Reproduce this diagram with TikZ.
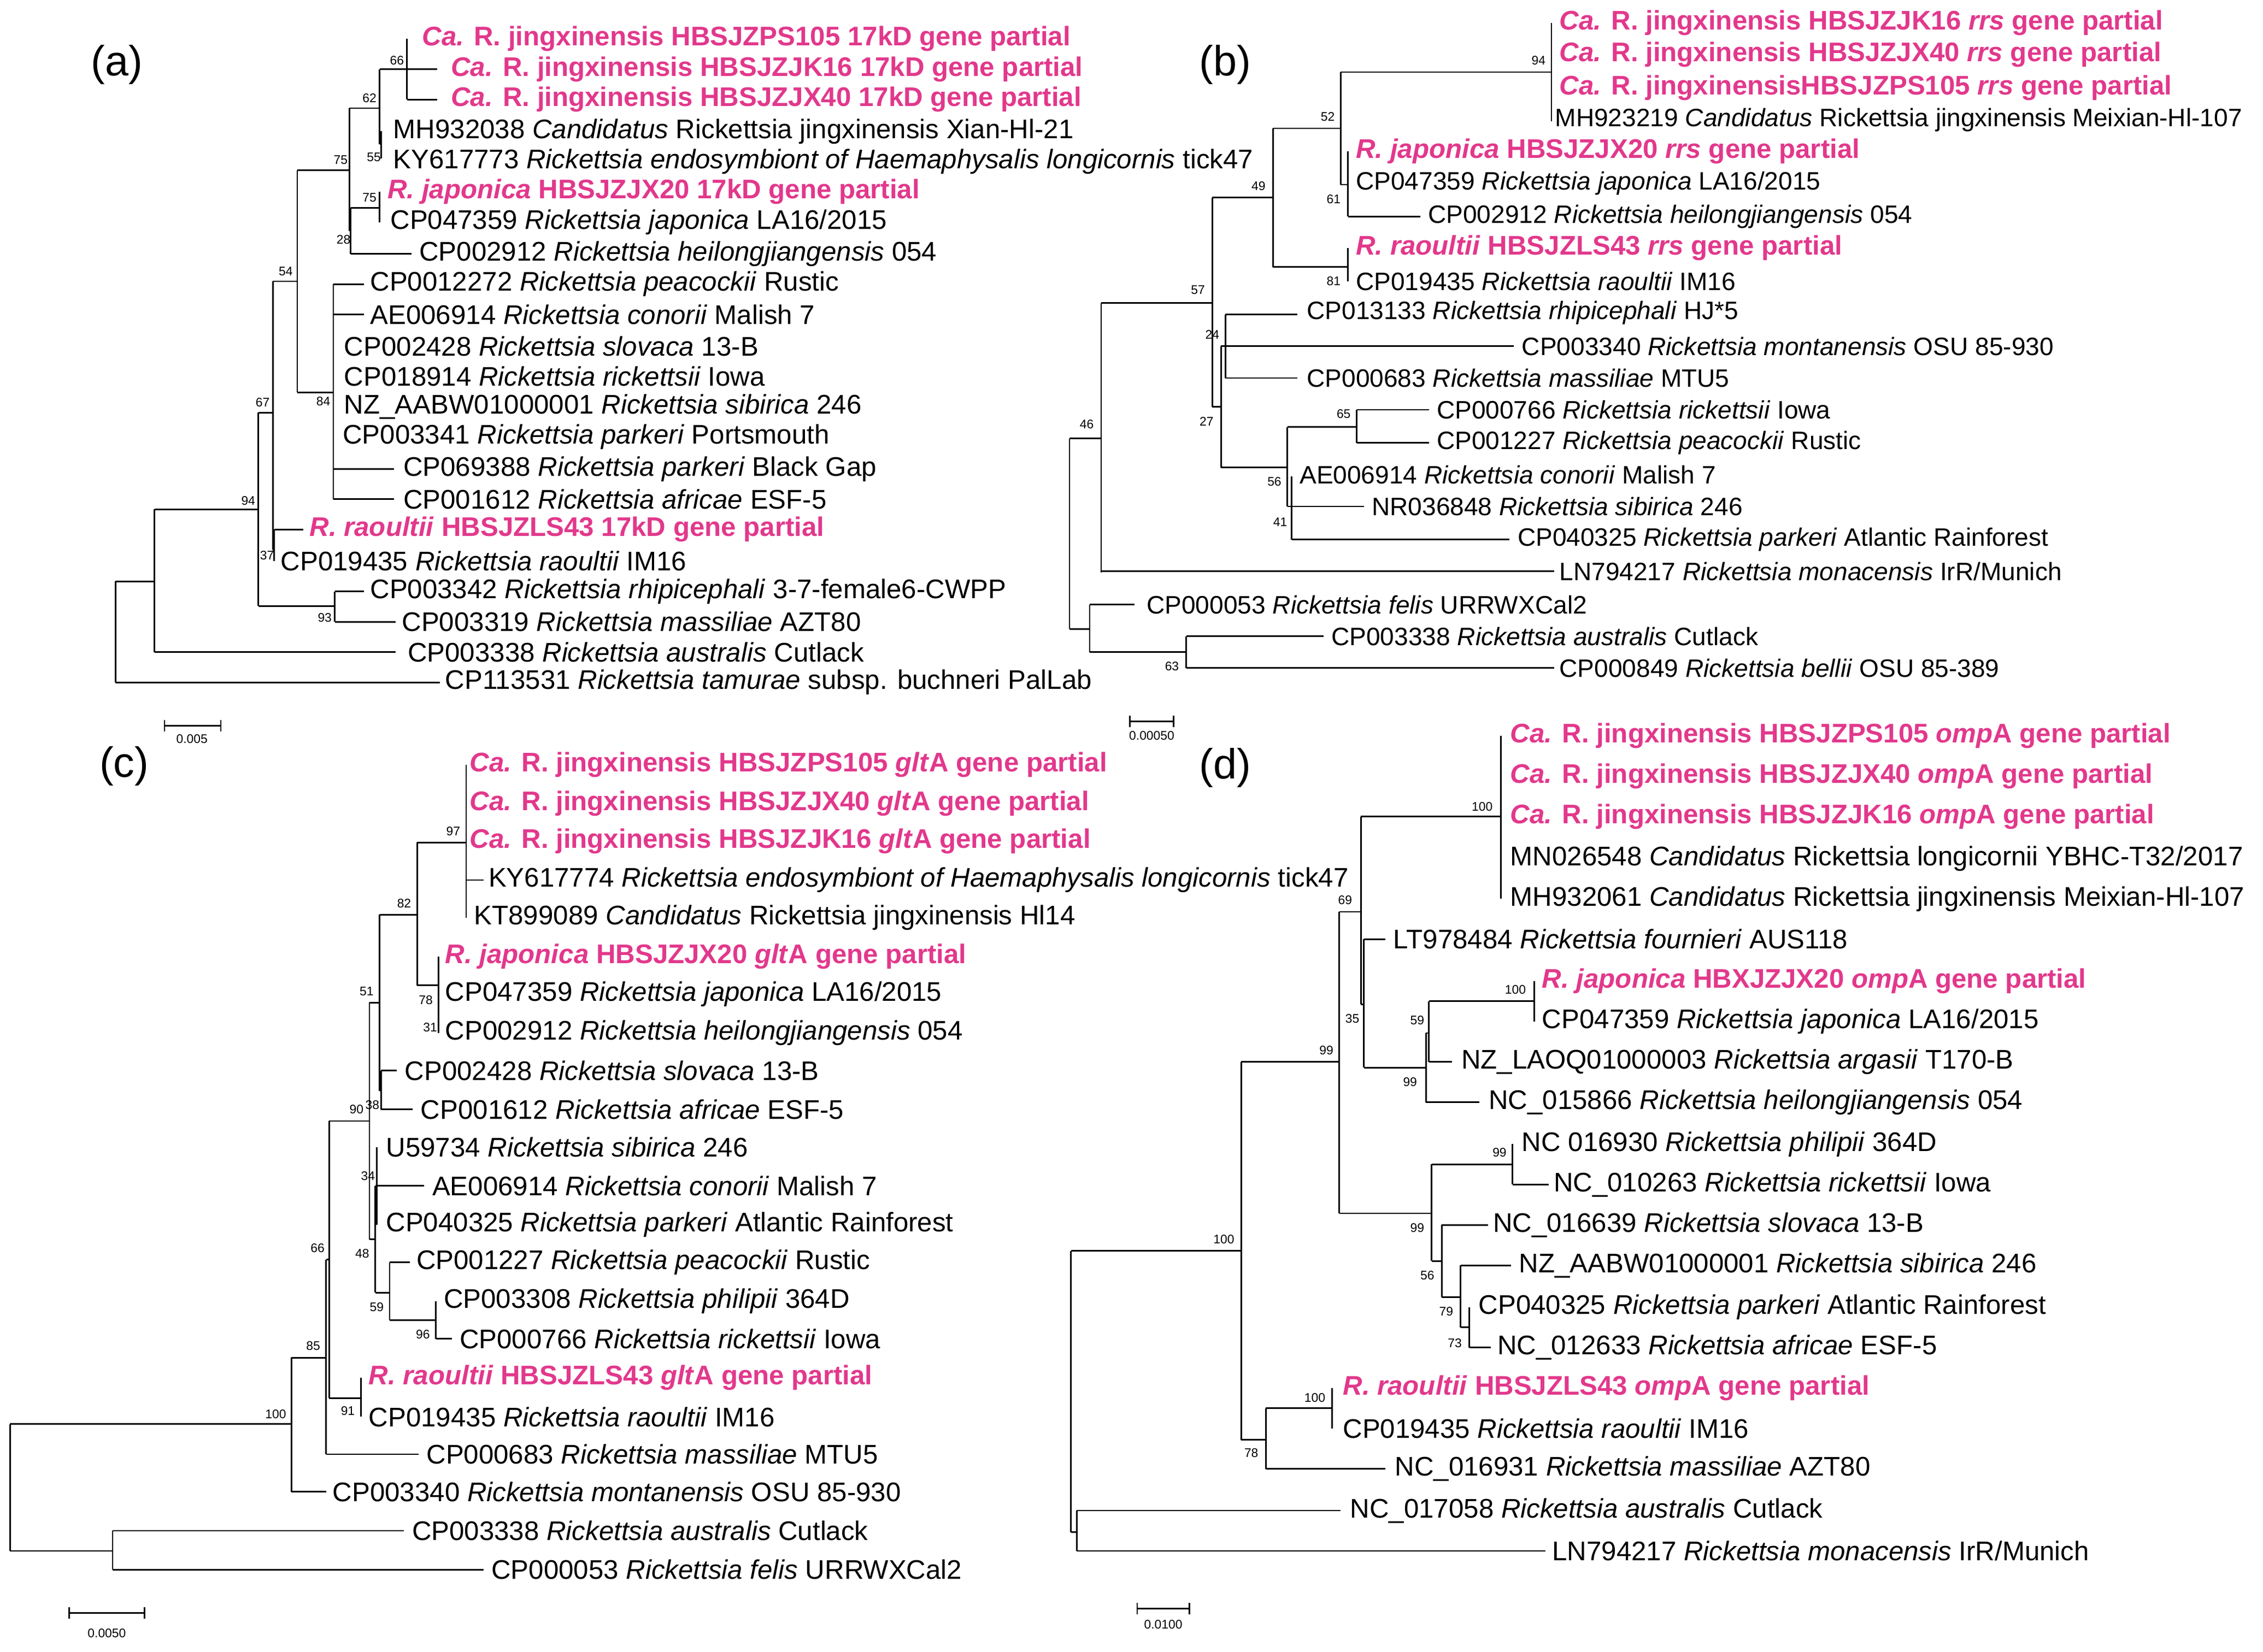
\documentclass[tikz,border=0pt]{standalone}
\usepackage{fontspec}
\setmainfont{Liberation Sans}
\definecolor{mag}{RGB}{226,56,140}
\newcommand\vb[3]{\draw (#1,#2) -- (#1,#3);}
\newcommand\hb[3]{\draw (#1,#3) -- (#2,#3);}
\newcommand\lf[3]{\node[lab] at (#1,#2) {#3};}
\newcommand\lfb[3]{\node[labb] at (#1,#2) {#3};}
\newcommand\mg[3]{\node[mglab] at (#1,#2) {#3};}
\newcommand\bsv[3]{\node[bsn] at (#1,#2) {#3};}
\begin{document}
\begin{tikzpicture}[x=0.0264cm,y=-0.0264cm,line width=0.8pt,
 lab/.style={anchor=west,inner sep=0pt,font=\fontsize{14}{14}\selectfont},
 labb/.style={anchor=west,inner sep=0pt,font=\fontsize{13.1}{13.1}\selectfont},
 mglab/.style={anchor=west,inner sep=0pt,text=mag,font=\bfseries\fontsize{14}{14}\selectfont},
 bsn/.style={inner sep=0pt,font=\fontsize{6.5}{6.5}\selectfont},
 plab/.style={inner sep=0pt,font=\fontsize{22}{22}\selectfont},
 sclab/.style={inner sep=0pt,font=\fontsize{6.5}{6.5}\selectfont}]
\useasboundingbox[fill=white] (0,0) rectangle (1568,1144.7);
% ================= (a)
\node[plab] (pa) at (81,45) {(a)};
\vb{80}{403}{473} \hb{80}{107}{403} \hb{80}{305}{473}
\vb{107}{353}{452} \hb{107}{179}{353} \hb{107}{274}{452}
\vb{179}{286}{420} \hb{179}{189}{286} \hb{179}{232}{420}
\vb{232}{410}{431} \hb{232}{252}{410} \hb{232}{274}{431}
\vb{189}{195}{381} \hb{189}{206}{195} \hb{189}{190}{381}
\vb{190}{367}{389} \hb{190}{210}{367}
\vb{206}{118}{272} \hb{206}{242}{118} \hb{206}{231}{272}
\vb{231}{197}{346} \hb{231}{252}{197} \hb{231}{252}{218} \hb{231}{273}{325} \hb{231}{273}{346}
\vb{242}{75}{160} \hb{242}{263}{75}
\vb{243}{144}{176} \hb{243}{263}{144} \hb{243}{285}{176}
\vb{263}{133}{154}
\vb{263}{48}{100} \hb{263}{282}{48} \hb{263}{264}{100}
\vb{264}{91}{110}
\vb{282}{27}{69} \hb{282}{303}{48} \hb{282}{303}{69}
\mg{292}{27}{\textit{Ca.} R. jingxinensis HBSJZPS105 17kD gene partial}
\mg{312}{48}{\textit{Ca.} R. jingxinensis HBSJZJK16 17kD gene partial}
\mg{312}{69}{\textit{Ca.} R. jingxinensis HBSJZJX40 17kD gene partial}
\lf{272}{91}{MH932038 \textit{Candidatus} Rickettsia jingxinensis Xian-Hl-21}
\lf{272}{112}{KY617773 \textit{Rickettsia endosymbiont of Haemaphysalis longicornis} tick47}
\mg{268}{133}{\textit{R. japonica} HBSJZJX20 17kD gene partial}
\lf{270}{154}{CP047359 \textit{Rickettsia japonica} LA16/2015}
\lf{290}{176}{CP002912 \textit{Rickettsia heilongjiangensis} 054}
\lf{256}{197}{CP0012272 \textit{Rickettsia peacockii} Rustic}
\lf{256}{218}{AE006914 \textit{Rickettsia conorii} Malish 7}
\lf{238}{240}{CP002428 \textit{Rickettsia slovaca} 13-B}
\lf{238}{261}{CP018914 \textit{Rickettsia rickettsii} Iowa}
\lf{238}{282}{NZ\_AABW01000001 \textit{Rickettsia sibirica} 246}
\lf{237}{303}{CP003341 \textit{Rickettsia parkeri} Portsmouth}
\lf{279}{325}{CP069388 \textit{Rickettsia parkeri} Black Gap}
\lf{279}{346}{CP001612 \textit{Rickettsia africae} ESF-5}
\mg{214}{367}{\textit{R. raoultii} HBSJZLS43 17kD gene partial}
\lf{194}{389}{CP019435 \textit{Rickettsia raoultii} IM16}
\lf{256}{410}{CP003342 \textit{Rickettsia rhipicephali} 3-7-female6-CWPP}
\lf{278}{431}{CP003319 \textit{Rickettsia massiliae} AZT80}
\lf{282}{452}{CP003338 \textit{Rickettsia australis} Cutlack}
\lf{308}{473}{CP113531 \textit{Rickettsia tamurae} subsp. buchneri PalLab}
\bsv{275}{42}{66} \bsv{256}{68}{62} \bsv{259}{109}{55} \bsv{236}{111}{75}
\bsv{256}{137}{75} \bsv{238}{166}{28} \bsv{198}{188}{54} \bsv{224}{278}{84}
\bsv{182}{279}{67} \bsv{172}{347}{94} \bsv{185}{385}{37} \bsv{225}{428}{93}
\draw (114,503) -- (153,503); \draw (114,499) -- (114,507); \draw (153,499) -- (153,507);
\node[sclab] (sa) at (133,512) {0.005};
% ================= (b)
\node[plab] (pb) at (849,45) {(b)};
\vb{741}{304}{436} \hb{741}{763}{304} \hb{741}{755}{436}
\vb{763}{210}{397} \hb{763}{840}{210} \hb{763}{1077}{396}
\vb{840}{137}{282} \hb{840}{882}{137} \hb{840}{846}{282}
\vb{882}{89}{185} \hb{882}{929}{89} \hb{882}{934}{185}
\vb{929}{50}{128} \hb{929}{1075}{50} \hb{929}{934}{128}
\vb{1075}{16}{84}
\vb{934}{105}{150} \hb{934}{984}{150}
\vb{934}{172}{195}
\vb{846}{240}{324} \hb{846}{849}{240} \hb{846}{1049}{240} \hb{846}{892}{324}
\vb{849}{218}{262} \hb{849}{899}{218} \hb{849}{899}{262}
\vb{892}{296}{351} \hb{892}{940}{296} \hb{892}{945}{351}
\vb{940}{284}{307} \hb{940}{990}{284} \hb{940}{990}{307}
\vb{895}{330}{374} \hb{895}{1046}{374}
\vb{755}{419}{452} \hb{755}{786}{419} \hb{755}{822}{452}
\vb{822}{441}{463} \hb{822}{917}{441} \hb{822}{1077}{463}
\mg{1080}{16}{\textit{Ca.} R. jingxinensis HBSJZJK16 \textit{rrs} gene partial}
\mg{1080}{38}{\textit{Ca.} R. jingxinensis HBSJZJX40 \textit{rrs} gene partial}
\mg{1080}{61}{\textit{Ca.} R. jingxinensisHBSJZPS105 \textit{rrs} gene partial}
\lfb{1077}{83}{MH923219 \textit{Candidatus} Rickettsia jingxinensis Meixian-Hl-107}
\mg{939}{105}{\textit{R. japonica} HBSJZJX20 \textit{rrs} gene partial}
\lfb{939}{127}{CP047359 \textit{Rickettsia japonica} LA16/2015}
\lfb{989}{150}{CP002912 \textit{Rickettsia heilongjiangensis} 054}
\mg{939}{172}{\textit{R. raoultii} HBSJZLS43 \textit{rrs} gene partial}
\lfb{939}{195}{CP019435 \textit{Rickettsia raoultii} IM16}
\lfb{905}{217}{CP013133 \textit{Rickettsia rhipicephali} HJ*5}
\lfb{1054}{240}{CP003340 \textit{Rickettsia montanensis} OSU 85-930}
\lfb{905}{262}{CP000683 \textit{Rickettsia massiliae} MTU5}
\lfb{995}{284}{CP000766 \textit{Rickettsia rickettsii} Iowa}
\lfb{995}{307}{CP001227 \textit{Rickettsia peacockii} Rustic}
\lfb{900}{329}{AE006914 \textit{Rickettsia conorii} Malish 7}
\lfb{950}{351}{NR036848 \textit{Rickettsia sibirica} 246}
\lfb{1051}{374}{CP040325 \textit{Rickettsia parkeri} Atlantic Rainforest}
\lfb{1080}{396}{LN794217 \textit{Rickettsia monacensis} IrR/Munich}
\lfb{794}{419}{CP000053 \textit{Rickettsia felis} URRWXCal2}
\lfb{922}{441}{CP003338 \textit{Rickettsia australis} Cutlack}
\lfb{1080}{463}{CP000849 \textit{Rickettsia bellii} OSU 85-389}
\bsv{1066}{42}{94} \bsv{920}{81}{52} \bsv{872}{129}{49} \bsv{924}{138}{61}
\bsv{924}{195}{81} \bsv{830}{201}{57} \bsv{840}{232}{24} \bsv{836}{292}{27}
\bsv{931}{287}{65} \bsv{883}{334}{56} \bsv{887}{362}{41} \bsv{753}{294}{46}
\bsv{812}{462}{63}
\draw (783,500) -- (813,500); \draw (783,496) -- (783,504); \draw (813,496) -- (813,504);
\node[sclab] (sb) at (798,510) {0.00050};
% ================= (c)
\node[plab] (pc) at (86,531) {(c)};
\vb{7}{987}{1075} \hb{7}{202}{987} \hb{7}{78}{1075}
\vb{78}{1061}{1088} \hb{78}{280}{1061} \hb{78}{335}{1088}
\vb{202}{941}{1034} \hb{202}{226}{941} \hb{202}{226}{1034}
\vb{226}{873}{1008} \hb{226}{228}{873} \hb{226}{290}{1008}
\vb{228}{777}{969} \hb{228}{256}{777} \hb{228}{250}{969}
\vb{250}{955}{982}
\vb{256}{695}{859} \hb{256}{263}{695} \hb{256}{260}{859}
\vb{263}{634}{756} \hb{263}{289}{634} \hb{263}{264}{756}
\vb{264}{742}{769} \hb{264}{275}{742} \hb{264}{286}{769}
\vb{289}{584}{683} \hb{289}{323}{584} \hb{289}{304}{683}
\vb{323}{530}{636} \hb{323}{335}{610}
\vb{304}{663}{716}
\vb{260}{822}{896} \hb{260}{261}{822} \hb{260}{270}{896}
\vb{261}{795}{849} \hb{261}{294}{822}
\vb{270}{875}{915} \hb{270}{284}{875} \hb{270}{302}{915}
\vb{302}{902}{928} \hb{302}{313}{928}
\mg{325}{530}{\textit{Ca.} R. jingxinensis HBSJZPS105 \textit{glt}A gene partial}
\mg{325}{557}{\textit{Ca.} R. jingxinensis HBSJZJX40 \textit{glt}A gene partial}
\mg{325}{583}{\textit{Ca.} R. jingxinensis HBSJZJK16 \textit{glt}A gene partial}
\lf{338}{610}{KY617774 \textit{Rickettsia endosymbiont of Haemaphysalis longicornis} tick47}
\lf{328}{636}{KT899089 \textit{Candidatus} Rickettsia jingxinensis Hl14}
\mg{308}{663}{\textit{R. japonica} HBSJZJX20 \textit{glt}A gene partial}
\lf{308}{689}{CP047359 \textit{Rickettsia japonica} LA16/2015}
\lf{308}{716}{CP002912 \textit{Rickettsia heilongjiangensis} 054}
\lf{280}{742}{CP002428 \textit{Rickettsia slovaca} 13-B}
\lf{291}{769}{CP001612 \textit{Rickettsia africae} ESF-5}
\lf{267}{795}{U59734 \textit{Rickettsia sibirica} 246}
\lf{299}{822}{AE006914 \textit{Rickettsia conorii} Malish 7}
\lf{267}{849}{CP040325 \textit{Rickettsia parkeri} Atlantic Rainforest}
\lf{288}{875}{CP001227 \textit{Rickettsia peacockii} Rustic}
\lf{307}{902}{CP003308 \textit{Rickettsia philipii} 364D}
\lf{318}{928}{CP000766 \textit{Rickettsia rickettsii} Iowa}
\mg{255}{955}{\textit{R. raoultii} HBSJZLS43 \textit{glt}A gene partial}
\lf{255}{982}{CP019435 \textit{Rickettsia raoultii} IM16}
\lf{295}{1008}{CP000683 \textit{Rickettsia massiliae} MTU5}
\lf{230}{1034}{CP003340 \textit{Rickettsia montanensis} OSU 85-930}
\lf{285}{1061}{CP003338 \textit{Rickettsia australis} Cutlack}
\lf{340}{1088}{CP000053 \textit{Rickettsia felis} URRWXCal2}
\bsv{314}{576}{97} \bsv{280}{626}{82} \bsv{254}{687}{51} \bsv{295}{693}{78}
\bsv{298}{712}{31} \bsv{247}{769}{90} \bsv{258}{766}{38} \bsv{255}{815}{34}
\bsv{251}{869}{48} \bsv{261}{906}{59} \bsv{293}{925}{96} \bsv{220}{865}{66}
\bsv{217}{933}{85} \bsv{241}{978}{91} \bsv{191}{980}{100}
\draw (48,1118) -- (100,1118); \draw (48,1114) -- (48,1122); \draw (100,1114) -- (100,1122);
\node[sclab] (sc) at (74,1132) {0.0050};
% ================= (d)
\node[plab] (pd) at (849,532) {(d)};
\vb{742}{867}{1062} \hb{742}{860}{867} \hb{742}{746}{1062}
\vb{746}{1047}{1075} \hb{746}{929}{1047} \hb{746}{1071}{1075}
\vb{860}{736}{998} \hb{860}{928}{736} \hb{860}{877}{998}
\vb{877}{976}{1018} \hb{877}{923}{976} \hb{877}{960}{1018}
\vb{923}{962}{990}
\vb{928}{632}{841} \hb{928}{943}{632} \hb{928}{992}{841}
\vb{943}{566}{696} \hb{943}{1040}{566} \hb{943}{945}{696}
\vb{1040}{510}{623}
\vb{945}{651}{740} \hb{945}{960}{651} \hb{945}{988}{740}
\vb{988}{716}{764} \hb{988}{990}{716} \hb{988}{1025}{764}
\vb{990}{694}{736} \hb{990}{1063}{694} \hb{990}{1006}{736}
\vb{1063}{680}{708}
\vb{992}{807}{874} \hb{992}{1048}{807} \hb{992}{999}{874}
\vb{1048}{793}{821} \hb{1048}{1073}{821}
\vb{999}{849}{899} \hb{999}{1031}{849} \hb{999}{1012}{899}
\vb{1012}{877}{920} \hb{1012}{1047}{877} \hb{1012}{1018}{920}
\vb{1018}{906}{934} \hb{1018}{1033}{934}
\mg{1046}{510}{\textit{Ca.} R. jingxinensis HBSJZPS105 \textit{omp}A gene partial}
\mg{1046}{538}{\textit{Ca.} R. jingxinensis HBSJZJX40 \textit{omp}A gene partial}
\mg{1046}{566}{\textit{Ca.} R. jingxinensis HBSJZJK16 \textit{omp}A gene partial}
\lf{1046}{595}{MN026548 \textit{Candidatus} Rickettsia longicornii YBHC-T32/2017}
\lf{1046}{623}{MH932061 \textit{Candidatus} Rickettsia jingxinensis Meixian-Hl-107}
\lf{965}{651}{LT978484 \textit{Rickettsia fournieri} AUS118}
\mg{1068}{680}{\textit{R. japonica} HBXJZJX20 \textit{omp}A gene partial}
\lf{1068}{708}{CP047359 \textit{Rickettsia japonica} LA16/2015}
\lf{1012}{736}{NZ\_LAOQ01000003 \textit{Rickettsia argasii} T170-B}
\lf{1031}{764}{NC\_015866 \textit{Rickettsia heilongjiangensis} 054}
\lf{1054}{793}{NC 016930 \textit{Rickettsia philipii} 364D}
\lf{1076}{821}{NC\_010263 \textit{Rickettsia rickettsii} Iowa}
\lf{1034}{849}{NC\_016639 \textit{Rickettsia slovaca} 13-B}
\lf{1052}{877}{NZ\_AABW01000001 \textit{Rickettsia sibirica} 246}
\lf{1024}{906}{CP040325 \textit{Rickettsia parkeri} Atlantic Rainforest}
\lf{1037}{934}{NC\_012633 \textit{Rickettsia africae} ESF-5}
\mg{930}{962}{\textit{R. raoultii} HBSJZLS43 \textit{omp}A gene partial}
\lf{930}{990}{CP019435 \textit{Rickettsia raoultii} IM16}
\lf{966}{1018}{NC\_016931 \textit{Rickettsia massiliae} AZT80}
\lf{935}{1047}{NC\_017058 \textit{Rickettsia australis} Cutlack}
\lf{1075}{1075}{LN794217 \textit{Rickettsia monacensis} IrR/Munich}
\bsv{1027}{559}{100} \bsv{932}{624}{69} \bsv{937}{706}{35} \bsv{1050}{686}{100}
\bsv{982}{707}{59} \bsv{977}{750}{99} \bsv{919}{728}{99} \bsv{1039}{799}{99}
\bsv{982}{851}{99} \bsv{989}{884}{56} \bsv{1002}{909}{79} \bsv{1008}{931}{73}
\bsv{911}{969}{100} \bsv{867}{1007}{78} \bsv{848}{859}{100}
\draw (788,1115) -- (824,1115); \draw (788,1111) -- (788,1119); \draw (824,1111) -- (824,1119);
\node[sclab] (sd) at (806,1126) {0.0100};
\end{tikzpicture}
\end{document}
